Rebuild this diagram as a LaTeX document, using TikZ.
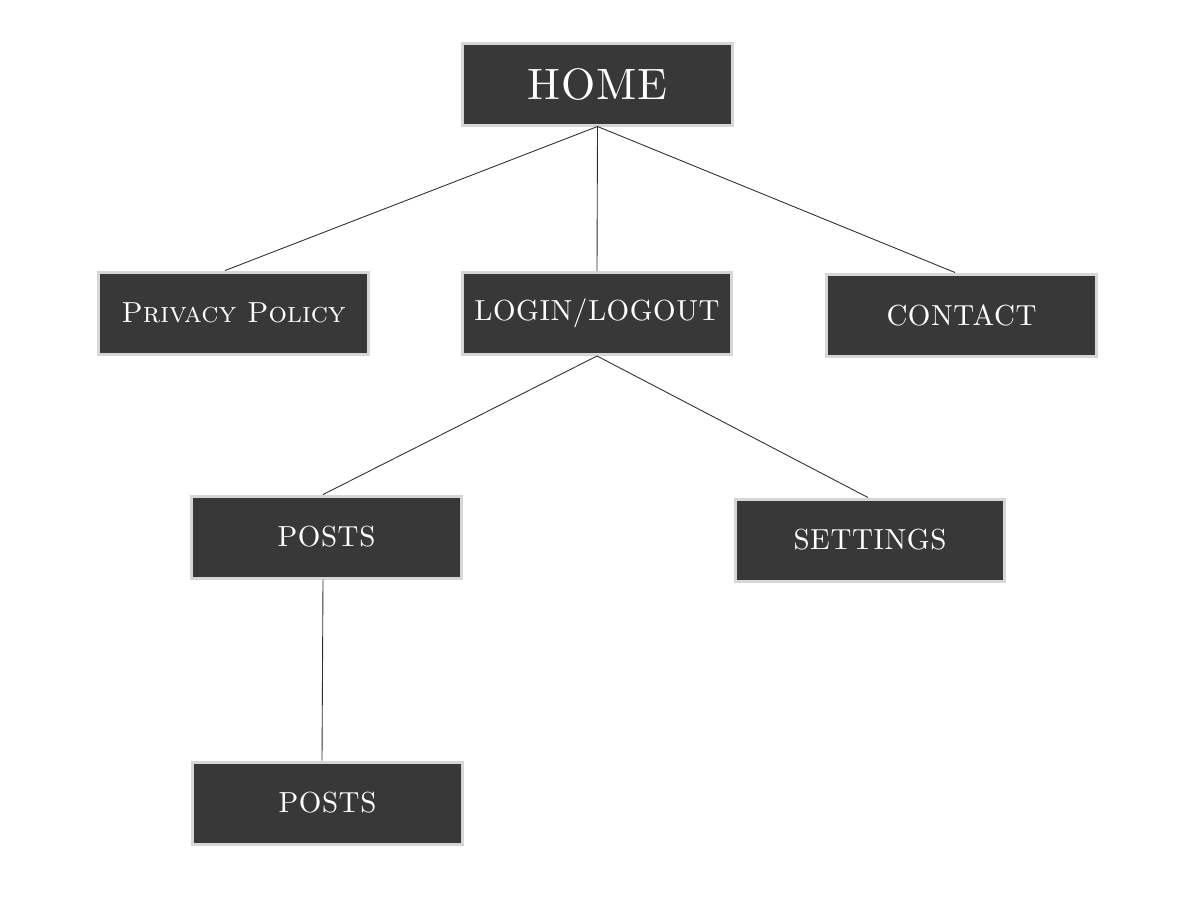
\documentclass[tikz,border=0pt]{standalone}
\usepackage{fontspec}
\usepackage{xcolor}
\usepackage{tikz}

\newfontfamily\pagecaps{lmroman10-regular.otf}[LetterSpace=2]
\definecolor{boxfill}{HTML}{383838}
\definecolor{boxrim}{HTML}{D6D6D6}
\definecolor{linkgray}{HTML}{2E2E2E}

\begin{document}
\begin{tikzpicture}[x=0.02cm,y=-0.02cm,
    page/.style={fill=boxfill,draw=boxrim,line width=0.06cm,rectangle,
        minimum width=5.4cm,minimum height=1.64cm,inner sep=0pt,
        text=white,font=\pagecaps\fontsize{16.5}{18}\selectfont},
    link/.style={draw=linkgray,line width=0.5pt}]

            \useasboundingbox (0,0) rectangle (1200,904);

                    \node[page,font=\pagecaps\fontsize{25}{28}\selectfont] (home) at (597.5,84){HOME};
                    \node[page,font=\normalfont\fontsize{16.5}{18}\selectfont] (privacy) at (233.5,313){\textsc{Privacy Policy}};
                    \node[page] (login) at (597,313.5){LOGIN/LOGOUT};
                    \node[page] (contact) at (961.5,315){CONTACT};
                    \node[page] (posts) at (326.5,537){POSTS};
                    \node[page] (settings) at (870,540){SETTINGS};
                    \node[page] (postsb) at (327.5,803){POSTS};
                    \draw[link]  (home.south)--([xshift=-0.17cm]privacy.north) (home.south)--(login.north) (home.south)--([xshift=-0.13cm]contact.north)
                                 (login.south)--([xshift=-0.07cm]posts.north) (login.south)--([xshift=-0.04cm]settings.north)
                                 ([xshift=-0.07cm]posts.south)--([xshift=-0.11cm]postsb.north) ;

                    \end{tikzpicture}
\end{document}
